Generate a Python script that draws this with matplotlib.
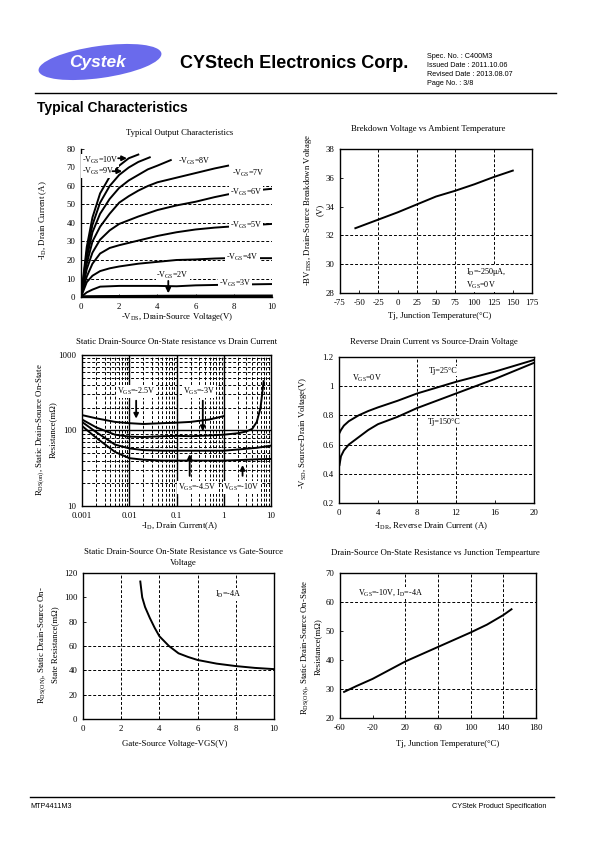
import numpy as np
import matplotlib
matplotlib.use('Agg')
import matplotlib.pyplot as plt
from matplotlib.patches import Ellipse
from matplotlib.ticker import NullFormatter, FixedLocator

plt.rcParams['font.family'] = ['Liberation Serif', 'DejaVu Serif']
plt.rcParams['mathtext.default'] = 'regular'
plt.rcParams['axes.unicode_minus'] = False
plt.rcParams['axes.linewidth'] = 1.0

W, H = 595, 842

# ---- chart 1: typical output characteristics (-VDS, -ID) ----
vds_10 = [0, 0.3, 0.6, 1.0, 1.5, 2.0, 2.5, 3.0]
id_10 = [0, 27, 43, 56, 65, 71, 75, 77]
vds_9 = [0, 0.3, 0.6, 1.0, 1.5, 2.0, 2.5, 3.0, 3.6]
id_9 = [0, 24, 39, 51, 60, 66, 70, 73, 75.5]
vds_8 = [0, 0.3, 0.6, 1.0, 1.5, 2.0, 2.5, 3.0, 3.5, 4.0, 4.7]
id_8 = [0, 21, 35, 45, 53, 59, 63, 66, 69, 71, 74]
vds_7 = [0, 0.3, 0.6, 1.0, 1.5, 2.0, 2.5, 3.0, 3.5, 4.0, 5.0, 6.0, 7.0, 7.7]
id_7 = [0, 18, 30, 38, 45, 51, 54.5, 57.5, 60, 62, 64.5, 67, 69.5, 71]
vds_6 = [0, 0.3, 0.6, 1.0, 1.5, 2.0, 3.0, 4.0, 5.0, 6.0, 7.0, 7.7, 9.0, 10.0]
id_6 = [0, 15, 24, 31, 36, 39.5, 43.5, 47, 49.5, 51.5, 54, 55.5, 57.5, 58.5]
vds_5 = [0, 0.3, 0.6, 1.0, 1.5, 2.0, 3.0, 4.0, 5.0, 6.0, 7.0, 7.7, 10.0]
id_5 = [0, 11, 18, 23.5, 26.5, 28, 30.5, 33, 35, 36.5, 37.5, 38, 39.5]
vds_4 = [0, 0.3, 0.6, 1.0, 1.5, 2.0, 3.0, 4.0, 5.0, 6.0, 7.0, 7.7, 10.0]
id_4 = [0, 8, 11.5, 14, 15.5, 16.5, 18, 19, 20, 20.3, 20.8, 21, 21]
vds_3 = [0, 0.3, 0.6, 1.0, 2.0, 3.0, 4.0, 5.0, 6.0, 7.0, 8.0, 10.0]
id_3 = [0, 2.5, 4, 5.6, 6, 6, 6, 5.8, 6.3, 6.5, 6.7, 7]
vds_2 = [0, 1.0, 3.0, 5.0, 10.0]
id_2 = [0, 0.1, 0.2, 0.3, 0.4]

# ---- chart 2: breakdown voltage vs temperature ----
tj_bv = [-55, -25, 0, 25, 50, 75, 100, 125, 150]
bv = [32.5, 33.1, 33.6, 34.15, 34.7, 35.1, 35.55, 36.05, 36.5]

# ---- chart 3: RDS(on) vs drain current ----
id_25 = [0.001, 0.002, 0.005, 0.01, 0.02, 0.05, 0.1, 0.2, 0.5, 1.0]
r_25 = [160, 145, 130, 125, 122, 125, 127, 130, 140, 155]
id_3v = [0.001, 0.002, 0.005, 0.01, 0.02, 0.05, 0.1, 0.2, 0.5, 1, 2, 3, 4, 5, 6, 7]
r_3v = [140, 110, 88, 83, 82, 84, 85, 84, 86, 88, 92, 97, 105, 130, 200, 450]
id_45 = [0.001, 0.002, 0.005, 0.01, 0.02, 0.05, 0.1, 1, 2, 5, 10]
r_45 = [130, 95, 65, 58, 55, 54, 54, 54, 56, 59, 63]
id_10v = [0.001, 0.002, 0.005, 0.01, 0.02, 0.05, 0.1, 1, 2, 5, 10]
r_10v = [115, 80, 52, 43, 41, 40, 40, 40, 40.5, 41.5, 42]

# ---- chart 4: VSD vs ISD ----
isd_25 = [0.05, 0.2, 0.5, 1, 2, 3, 4, 6, 8, 10, 12, 16, 20]
vsd_25 = [0.68, 0.70, 0.73, 0.76, 0.80, 0.83, 0.855, 0.90, 0.95, 0.99, 1.03, 1.10, 1.18]
isd_150 = [0.05, 0.2, 0.5, 1, 2, 3, 4, 6, 8, 10, 12, 16, 20]
vsd_150 = [0.46, 0.52, 0.56, 0.60, 0.65, 0.70, 0.74, 0.79, 0.85, 0.90, 0.95, 1.05, 1.16]

# ---- chart 5: RDS(on) vs VGS ----
vgs = [3.0, 3.1, 3.25, 3.5, 3.75, 4.0, 4.5, 5.0, 5.5, 6.0, 7.0, 8.0, 9.0, 10.0]
r_vgs = [113, 100, 92, 83, 75, 68, 60, 54, 51, 48.5, 45.5, 43.5, 42, 41]

# ---- chart 6: RDS(on) vs Tj ----
tj_r = [-55, -40, -20, 0, 20, 40, 60, 80, 100, 120, 140, 150]
r_tj = [29, 31, 33.5, 36.5, 39.5, 42, 44.5, 47, 49.5, 52.2, 55.5, 57.5]

fig = plt.figure(figsize=(W / 100, H / 100), dpi=100)


def fx(x):
    return x / W


def fy(y):
    return 1 - y / H


def ptext(x, y, s, **kw):
    kw.setdefault('ha', 'center')
    kw.setdefault('va', 'center')
    fig.text(fx(x), fy(y), s, **kw)


def new_axes(l, t, r, b):
    ax = fig.add_axes([fx(l), fy(b), (r - l) / W, (b - t) / H])
    ax.tick_params(labelsize=6.3, length=2, width=0.6, direction='in', pad=4)
    return ax


def dgrid(ax, xs=(), ys=()):
    for x in xs:
        ax.axvline(x, color='k', ls=(0, (3, 2)), lw=0.7, zorder=1)
    for y in ys:
        ax.axhline(y, color='k', ls=(0, (3, 2)), lw=0.7, zorder=1)


CURVE = dict(color='k', lw=1.4, zorder=3)
WBOX = dict(fc='white', ec='none', pad=0.6)
ARROW = dict(arrowstyle='-|>', color='k', lw=1.3, mutation_scale=7)
fs = 6.3
fa = 5.9

# ---------------- header / footer ----------------
over = fig.add_axes([0, 0, 1, 1])
over.set_xlim(0, W)
over.set_ylim(H, 0)
over.axis('off')
over.add_patch(Ellipse((100, 62), 124, 32, angle=-8, fc='#6a6aec', ec='none'))
over.text(98, 63, 'Cystek', color='white', fontsize=12.5, fontweight='bold',
          style='italic', family='Liberation Sans', ha='center', va='center')
over.plot([35, 556], [93, 93], color='k', lw=1.0)
over.plot([30, 554], [797, 797], color='k', lw=1.0)

ptext(180, 63, 'CYStech Electronics Corp.', ha='left', fontsize=13,
      fontweight='bold', family='Liberation Sans')
spec = ['Spec. No. : C400M3', 'Issued Date : 2011.10.06',
        'Revised Date : 2013.08.07', 'Page No. : 3/8']
for i, s in enumerate(spec):
    ptext(427, 56 + 9.3 * i, s, ha='left', fontsize=5.2, family='Liberation Sans')
ptext(37, 108, 'Typical Characteristics', ha='left', fontsize=10,
      fontweight='bold', family='Liberation Sans')
ptext(30, 806, 'MTP4411M3', ha='left', fontsize=5.2, family='Liberation Sans')
ptext(546, 806, 'CYStek Product Specification', ha='right', fontsize=5.2,
      family='Liberation Sans')

# ---------------- chart 1 ----------------
ax1 = new_axes(81, 149, 272, 297)
ax1.set_xlim(0, 10)
ax1.set_ylim(0, 80)
ax1.set_xticks(range(0, 11, 2))
ax1.set_yticks(range(0, 81, 10))
ax1.spines['top'].set_visible(False)
ax1.spines['right'].set_visible(False)
dgrid(ax1, ys=range(10, 61, 10))
for xs, ys in [(vds_10, id_10), (vds_9, id_9), (vds_8, id_8), (vds_7, id_7),
               (vds_6, id_6), (vds_5, id_5), (vds_4, id_4), (vds_3, id_3)]:
    ax1.plot(xs, ys, **CURVE)
ax1.plot(vds_2, id_2, color='k', lw=2.5, zorder=3)
ax1.text(0.05, 74, r'-V$_{GS}$=10V', fontsize=fa, va='center', bbox=WBOX, zorder=4)
ax1.annotate('', xy=(2.55, 75), xytext=(1.8, 75), arrowprops=ARROW, zorder=5)
ax1.text(0.05, 68, r'-V$_{GS}$=9V', fontsize=fa, va='center', bbox=WBOX, zorder=4)
ax1.annotate('', xy=(2.3, 68), xytext=(1.5, 68), arrowprops=ARROW, zorder=5)
for x, y, lab in [(5.1, 73.5, '8V'), (7.9, 67, '7V'), (7.8, 56.5, '6V'),
                  (7.8, 38.5, '5V'), (7.6, 21.2, '4V'), (7.2, 7.2, '3V')]:
    ax1.text(x, y, r'-V$_{GS}$=' + lab, fontsize=fa, va='center', bbox=WBOX, zorder=4)
ax1.text(3.95, 11.9, r'-V$_{GS}$=2V', fontsize=fa, va='center', bbox=WBOX, zorder=4)
ax1.annotate('', xy=(4.57, 0.5), xytext=(4.57, 10.2), arrowprops=ARROW, zorder=5)
ptext(180, 133, 'Typical Output Characteristics', fontsize=fs)
ptext(43, 220, r'-I$_{D}$, Drain Current (A)', rotation=90, fontsize=fs)
ptext(177, 317, r'-V$_{DS}$, Drain-Source Voltage(V)', fontsize=fs)

# ---------------- chart 2 ----------------
ax2 = new_axes(340, 149, 532, 293)
ax2.set_xlim(-75, 175)
ax2.set_ylim(28, 38)
ax2.set_xticks(range(-75, 176, 25))
ax2.set_yticks(range(28, 39, 2))
dgrid(ax2, xs=(-25, 25, 75, 125), ys=(30, 32))
ax2.plot(tj_bv, bv, **CURVE)
ax2.text(89, 29.0, u'I$_{D}$=-250\u03bcA,\nV$_{GS}$=0V', fontsize=fa, va='center',
         linespacing=1.15, bbox=WBOX, zorder=4)
ptext(428, 129, 'Brekdown Voltage vs Ambient Temperature', fontsize=fs)
ptext(313, 210, '-BV$_{DSS}$, Drain-Source Breakdown Voltage\n(V)', rotation=90,
      fontsize=fs, linespacing=1.3)
ptext(440, 316, u'Tj, Junction Temperature(\u00b0C)', fontsize=fs)

# ---------------- chart 3 ----------------
ax3 = new_axes(82, 355, 271, 506)
ax3.set_xscale('log')
ax3.set_yscale('log')
ax3.set_xlim(0.001, 10)
ax3.set_ylim(10, 1000)
ax3.xaxis.set_major_locator(FixedLocator([0.001, 0.01, 0.1, 1, 10]))
ax3.set_xticklabels(['0.001', '0.01', '0.1', '1', '10'])
ax3.yaxis.set_major_locator(FixedLocator([10, 100, 1000]))
ax3.set_yticklabels(['10', '100', '1000'])
ax3.xaxis.set_minor_formatter(NullFormatter())
ax3.yaxis.set_minor_formatter(NullFormatter())
ax3.tick_params(which='minor', length=0)
minor_x = [m * 10.0 ** e for e in range(-3, 1) for m in range(2, 10)]
minor_y = [m * 10.0 ** e for e in range(1, 3) for m in range(2, 10)]
dgrid(ax3, xs=minor_x, ys=minor_y)
for x in (0.01, 0.1, 1):
    ax3.axvline(x, color='k', lw=1.0, zorder=1)
ax3.axhline(100, color='k', lw=1.0, zorder=1)
for xs, ys in [(id_25, r_25), (id_3v, r_3v), (id_45, r_45), (id_10v, r_10v)]:
    ax3.plot(xs, ys, **CURVE)
ax3.text(0.014, 325, r'V$_{GS}$=-2.5V', fontsize=fa, ha='center', va='center', bbox=WBOX, zorder=4)
ax3.annotate('', xy=(0.014, 132), xytext=(0.014, 270), arrowprops=ARROW, zorder=5)
ax3.text(0.3, 325, r'V$_{GS}$=-3V', fontsize=fa, ha='center', va='center', bbox=WBOX, zorder=4)
ax3.annotate('', xy=(0.36, 90), xytext=(0.36, 270), arrowprops=ARROW, zorder=5)
ax3.text(0.27, 17.5, r'V$_{GS}$=-4.5V', fontsize=fa, ha='center', va='center', bbox=WBOX, zorder=4)
ax3.annotate('', xy=(0.19, 53), xytext=(0.19, 23), arrowprops=ARROW, zorder=5)
ax3.text(2.4, 17.5, r'V$_{GS}$=-10V', fontsize=fa, ha='center', va='center', bbox=WBOX, zorder=4)
ax3.annotate('', xy=(2.5, 38), xytext=(2.5, 23), arrowprops=ARROW, zorder=5)
ptext(177, 342, 'Static Drain-Source On-State resistance vs Drain Current', fontsize=fs)
ptext(46, 430, u'R$_{DS(on)}$, Static Drain-Source On-State\nResistance(m\u03a9)',
      rotation=90, fontsize=fs, linespacing=1.3)
ptext(180, 526, r'-I$_{D}$, Drain Current(A)', fontsize=fs)

# ---------------- chart 4 ----------------
ax4 = new_axes(339, 357, 534, 503)
ax4.set_xlim(0, 20)
ax4.set_ylim(0.2, 1.2)
ax4.set_xticks(range(0, 21, 4))
ax4.set_yticks([0.2, 0.4, 0.6, 0.8, 1.0, 1.2])
ax4.set_yticklabels(['0.2', '0.4', '0.6', '0.8', '1', '1.2'])
dgrid(ax4, xs=(8, 12), ys=(0.4, 0.6, 0.8, 1.0))
ax4.plot(isd_25, vsd_25, **CURVE)
ax4.plot(isd_150, vsd_150, **CURVE)
ax4.text(1.3, 1.05, r'V$_{GS}$=0V', fontsize=fa, va='center', bbox=WBOX, zorder=4)
ax4.text(9.2, 1.105, u'Tj=25\u00b0C', fontsize=fa, va='center', bbox=WBOX, zorder=4)
ax4.text(9.1, 0.755, u'Tj=150\u00b0C', fontsize=fa, va='center', bbox=WBOX, zorder=4)
ptext(434, 342, 'Reverse Drain Current vs Source-Drain Voltage', fontsize=fs)
ptext(303, 433, r'-V$_{SD}$, Source-Drain Voltage(V)', rotation=90, fontsize=fs)
ptext(431, 526, r'-I$_{DR}$, Reverse Drain Current (A)', fontsize=fs)

# ---------------- chart 5 ----------------
ax5 = new_axes(83, 573, 274, 719)
ax5.set_xlim(0, 10)
ax5.set_ylim(0, 120)
ax5.set_xticks(range(0, 11, 2))
ax5.set_yticks(range(0, 121, 20))
dgrid(ax5, xs=(2, 4, 6, 8), ys=(20, 40, 60))
ax5.plot(vgs, r_vgs, **CURVE)
ax5.text(6.9, 102, r'I$_{D}$=-4A', fontsize=fa, va='center', bbox=WBOX, zorder=4)
ptext(183, 552, 'Static Drain-Source On-State Resistance vs Gate-Source', fontsize=fs)
ptext(183, 563, 'Voltage', fontsize=fs)
ptext(48, 645, u'R$_{DS(ON)}$, Static Drain-Source On-\nState Resistance(m\u03a9)',
      rotation=90, fontsize=fs, linespacing=1.3)
ptext(175, 744, 'Gate-Source Voltage-VGS(V)', fontsize=fs)

# ---------------- chart 6 ----------------
ax6 = new_axes(340, 573, 536, 718)
ax6.set_xlim(-60, 180)
ax6.set_ylim(20, 70)
ax6.set_xticks(range(-60, 181, 40))
ax6.set_yticks(range(20, 71, 10))
dgrid(ax6, xs=(20, 60, 100, 140), ys=(30, 60))
ax6.plot(tj_r, r_tj, **CURVE)
ax6.text(-38, 63, r'V$_{GS}$=-10V, I$_{D}$=-4A', fontsize=fa, va='center', bbox=WBOX, zorder=4)
ptext(435, 553, 'Drain-Source On-State Resistance vs Junction Tempearture', fontsize=fs)
ptext(311, 647, u'R$_{DS(ON)}$, Static Drain-Source On-State\nResistance(m\u03a9)',
      rotation=90, fontsize=fs, linespacing=1.3)
ptext(448, 744, u'Tj, Junction Temperature(\u00b0C)', fontsize=fs)

fig.savefig('out.png', dpi=100)
